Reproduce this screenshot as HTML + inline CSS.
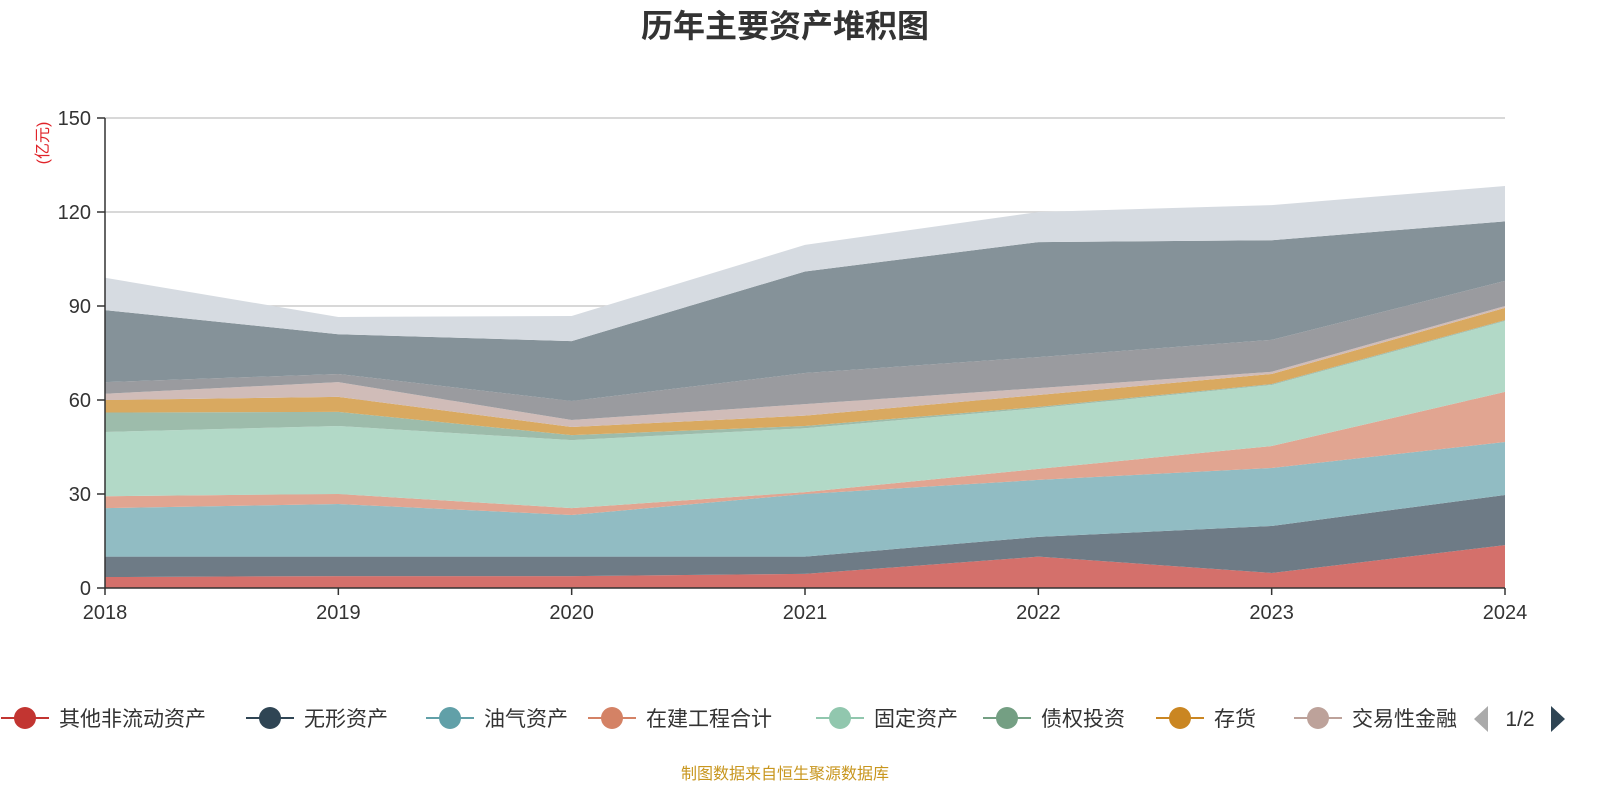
<!DOCTYPE html>
<html><head><meta charset="utf-8"><style>
body{margin:0;width:1600px;height:800px;background:#fff;overflow:hidden;font-family:"Liberation Sans","Noto Sans CJK SC",sans-serif}
</style></head><body>
<svg id="chart" width="1600" height="800" xmlns="http://www.w3.org/2000/svg" font-family="Liberation Sans, Noto Sans CJK SC, sans-serif">
<text x="785" y="37" text-anchor="middle" font-size="32" font-weight="bold" fill="#333">历年主要资产堆积图</text>
<text transform="translate(48,143) rotate(-90)" text-anchor="middle" font-size="16" fill="#e0242a">(亿元)</text>
<g id="grid"></g><g id="areas"></g><g id="axes"></g><g id="legend"></g>
<text x="785" y="779" text-anchor="middle" font-size="16" fill="#c8961e">制图数据来自恒生聚源数据库</text>
</svg>
<script>
const years=['2018','2019','2020','2021','2022','2023','2024'];
const yTicks=[0,30,60,90,120,150];
const seriesNames=['其他非流动资产','无形资产','油气资产','在建工程合计','固定资产','债权投资','存货','交易性金融资产','其他资产A','其他资产B','其他资产C'];
const s1=[3.5,3.8,3.8,4.5,10,4.8,13.7];
const s2=[6.5,6.2,6.2,5.5,6.3,15,16];
const s3=[15.5,16.8,13.3,20,18.2,18.5,16.9];
const s4=[3.8,3.2,2.2,0.6,3.5,7,16];
const s5=[20.5,21.7,21.7,20.4,19.4,19.5,22.6];
const s6=[6.2,4.5,1.6,0.7,0.4,0.3,0.3];
const s7=[4,4.8,2.6,3.3,3.8,3.2,3.9];
const s8=[2,4.7,2.2,3.7,2.2,0.7,0.6];
const s9=[3.7,2.6,6.1,9.9,9.9,10.2,8];
const s10=[23,12.7,19.1,32.4,36.7,31.8,19];
const s11=[10.3,5.5,8,8.5,9.6,11.2,11.3];
const series=[s1,s2,s3,s4,s5,s6,s7,s8,s9,s10,s11];
const fills=['#d4706b','#6e7b86','#91bcc3','#e1a591','#b2d9c7','#9dbcab','#d9a960','#d0bcb8','#9a9b9f','#859299','#d6dbe1'];
const legendColors=['#c23531','#2f4554','#61a0a8','#d48265','#91c7ae','#749f83','#ca8622','#bda29a'];
const NS='http://www.w3.org/2000/svg';
const X0=105,X1=1505,Y0=588,Y1=118;
function xs(i){return X0+(X1-X0)*i/(years.length-1);}
function ys(v){return Y0-(Y0-Y1)*v/150;}
function mk(t,a,p){const e=document.createElementNS(NS,t);for(const k in a)e.setAttribute(k,a[k]);(p||document.getElementById('chart')).appendChild(e);return e;}
const grid=document.getElementById('grid'),areas=document.getElementById('areas'),axes=document.getElementById('axes'),leg=document.getElementById('legend');
yTicks.forEach(t=>{
 if(t>0){const g=mk('line',{x1:X0,x2:X1,y1:ys(t),y2:ys(t),stroke:'#ccc','stroke-width':1.5},grid);
 
 }
 const tk=mk('line',{x1:X0-8,x2:X0,y1:ys(t),y2:ys(t),stroke:'#333','stroke-width':1.5},axes);
 
 
 const l=mk('text',{x:X0-14,y:ys(t)+7,'text-anchor':'end','font-size':20,fill:'#333'},axes);l.textContent=t;
 
 
});
let base=years.map(()=>0);
series.forEach((s,k)=>{
 const top=base.map((b,i)=>b+s[i]);
 let d='M'+top.map((v,i)=>xs(i)+','+ys(v)).join(' L');
 for(let i=years.length-1;i>=0;i--)d+=' L'+xs(i)+','+ys(base[i]);
 const p=mk('path',{d:d+'Z',fill:fills[k]},areas);
 
 
 base=top;
});
const ax=mk('line',{x1:X0,x2:X0,y1:Y1,y2:Y0,stroke:'#333','stroke-width':1.5},axes);


const bx=mk('line',{x1:X0,x2:X1,y1:Y0,y2:Y0,stroke:'#333','stroke-width':1.5},axes);


years.forEach((y,i)=>{
 const tk=mk('line',{x1:xs(i),x2:xs(i),y1:Y0,y2:Y0+7,stroke:'#333','stroke-width':1.5},axes);
 
 
 const t=mk('text',{x:xs(i),y:Y0+31,'text-anchor':'middle','font-size':20,fill:'#333'},axes);t.textContent=y;
 
 
});
const legX=[25,270,450,612,840,1007,1180,1318];
const legLabels=['其他非流动资产','无形资产','油气资产','在建工程合计','固定资产','债权投资','存货','交易性金融'];
legX.forEach((x,i)=>{
 const g=mk('g',{},leg);
 
 
 mk('line',{x1:x-24,x2:x+24,y1:718,y2:718,stroke:legendColors[i],'stroke-width':2},g);
 mk('circle',{cx:x,cy:718,r:11,fill:legendColors[i]},g);
 const t=mk('text',{x:x+34,y:726,'font-size':21,fill:'#333'},g);t.textContent=legLabels[i];
});
const pl=mk('polygon',{points:'1488,706 1488,732 1474,719',fill:'#aaa'},leg);


const pt=mk('text',{x:1520,y:726,'text-anchor':'middle','font-size':21,fill:'#333'},leg);pt.textContent='1/2';


const pn=mk('polygon',{points:'1551,706 1551,732 1565,719',fill:'#2f4554'},leg);


</script>
</body></html>
